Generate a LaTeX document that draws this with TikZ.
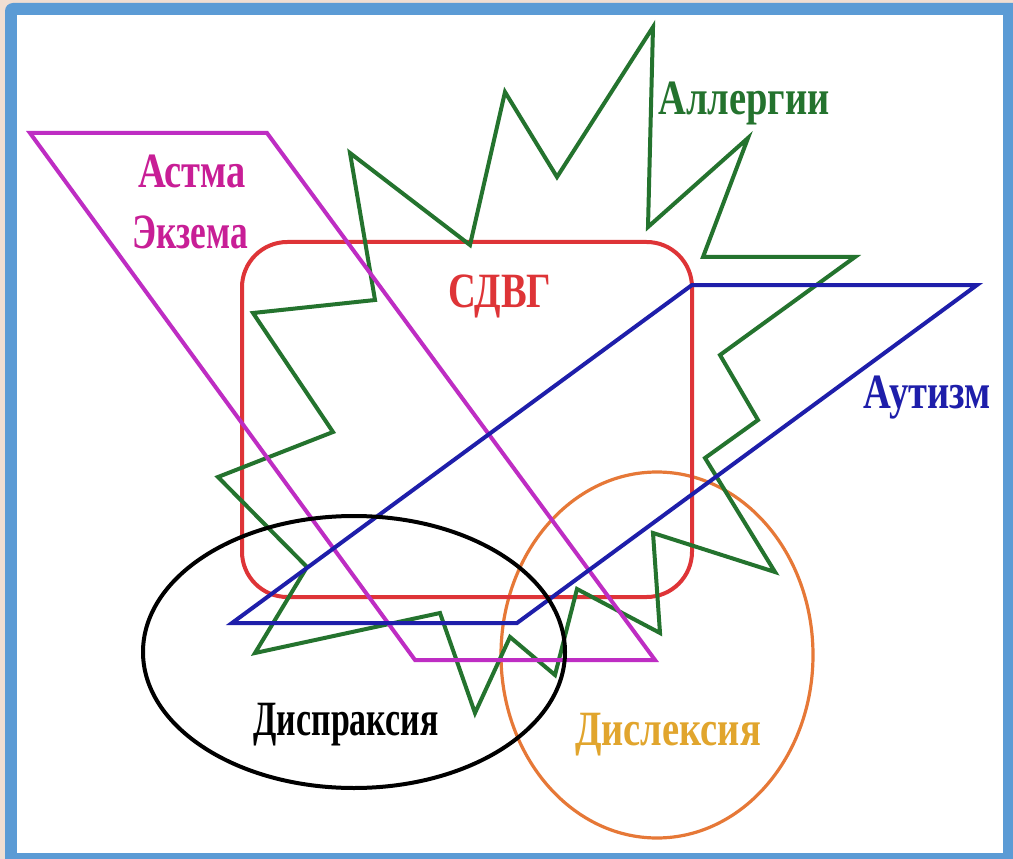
\documentclass[tikz,border=0pt]{standalone}
\usepackage{fontspec}
\setmainfont{Liberation Serif}
\definecolor{peach}{RGB}{240,222,210}
\definecolor{framebl}{RGB}{91,155,213}
\definecolor{grn}{RGB}{36,115,46}
\definecolor{rd}{RGB}{222,52,55}
\definecolor{mag}{RGB}{190,45,195}
\definecolor{magtxt}{RGB}{200,30,150}
\definecolor{bl}{RGB}{30,30,170}
\definecolor{org}{RGB}{230,120,55}
\definecolor{orgtxt}{RGB}{225,165,45}
\tikzset{
  shapeline/.style={line width=3pt, line join=miter},
  lbl/.style={font=\fontsize{37}{40}\selectfont\bfseries, anchor=base, inner sep=0pt, xscale=0.78}
}
\begin{document}
\begin{tikzpicture}[x=0.75pt,y=-0.75pt]
\useasboundingbox (0,0) rectangle (1013,859);
\begin{scope}
\clip (0,0) rectangle (1013,859);
\fill[peach] (0,0) rectangle (1013,859);
\fill[framebl, rounded corners=6pt] (5,3) rectangle (1030,880);
\fill[white] (17,15) rectangle (1003,853);
\end{scope}
% orange circle (Dyslexia)
\draw[org, line width=2.4pt] (657,655) ellipse [x radius=156, y radius=183];
% red rounded rectangle (ADHD)
\draw[rd, shapeline, rounded corners=34pt] (242,242) rectangle (692,597);
% green star (Allergies)
\draw[grn, shapeline] (653,27) -- (648,227) -- (748,138) -- (703,257) -- (855,257)
  -- (720,355) -- (758,420) -- (705,458) -- (775,572) -- (653,533) -- (660,633)
  -- (577,589) -- (555,675) -- (510,637) -- (475,713) -- (440,613) -- (255,653)
  -- (307,567) -- (218,477) -- (333,432) -- (253,313) -- (375,300) -- (350,153)
  -- (470,245) -- (505,92) -- (557,177) -- cycle;
% magenta parallelogram (Asthma, Eczema)
\draw[mag, shapeline] (30,133) -- (267,133) -- (655,660) -- (415,660) -- cycle;
% blue parallelogram (Autism)
\draw[bl, shapeline] (692,285) -- (977,285) -- (517,623) -- (232,623) -- cycle;
% black ellipse (Dyspraxia)
\draw[black, line width=3pt] (354,652) ellipse [x radius=211, y radius=136];
% labels
\node[lbl, text=magtxt] (astma) at (192,188) {Астма};
\node[lbl, text=magtxt, xscale=0.92] (ekzema) at (190,248) {Экзема};
\node[lbl, text=rd] (sdvg) at (500,307) {СДВГ};
\node[lbl, text=grn] (allerg) at (744,115) {Аллергии};
\node[lbl, text=bl] (autizm) at (927,408) {Аутизм};
\node[lbl, text=black, xscale=0.88] (dispr) at (346,735) {Диспраксия};
\node[lbl, text=orgtxt] (disl) at (668,745) {Дислексия};
\end{tikzpicture}
\end{document}
